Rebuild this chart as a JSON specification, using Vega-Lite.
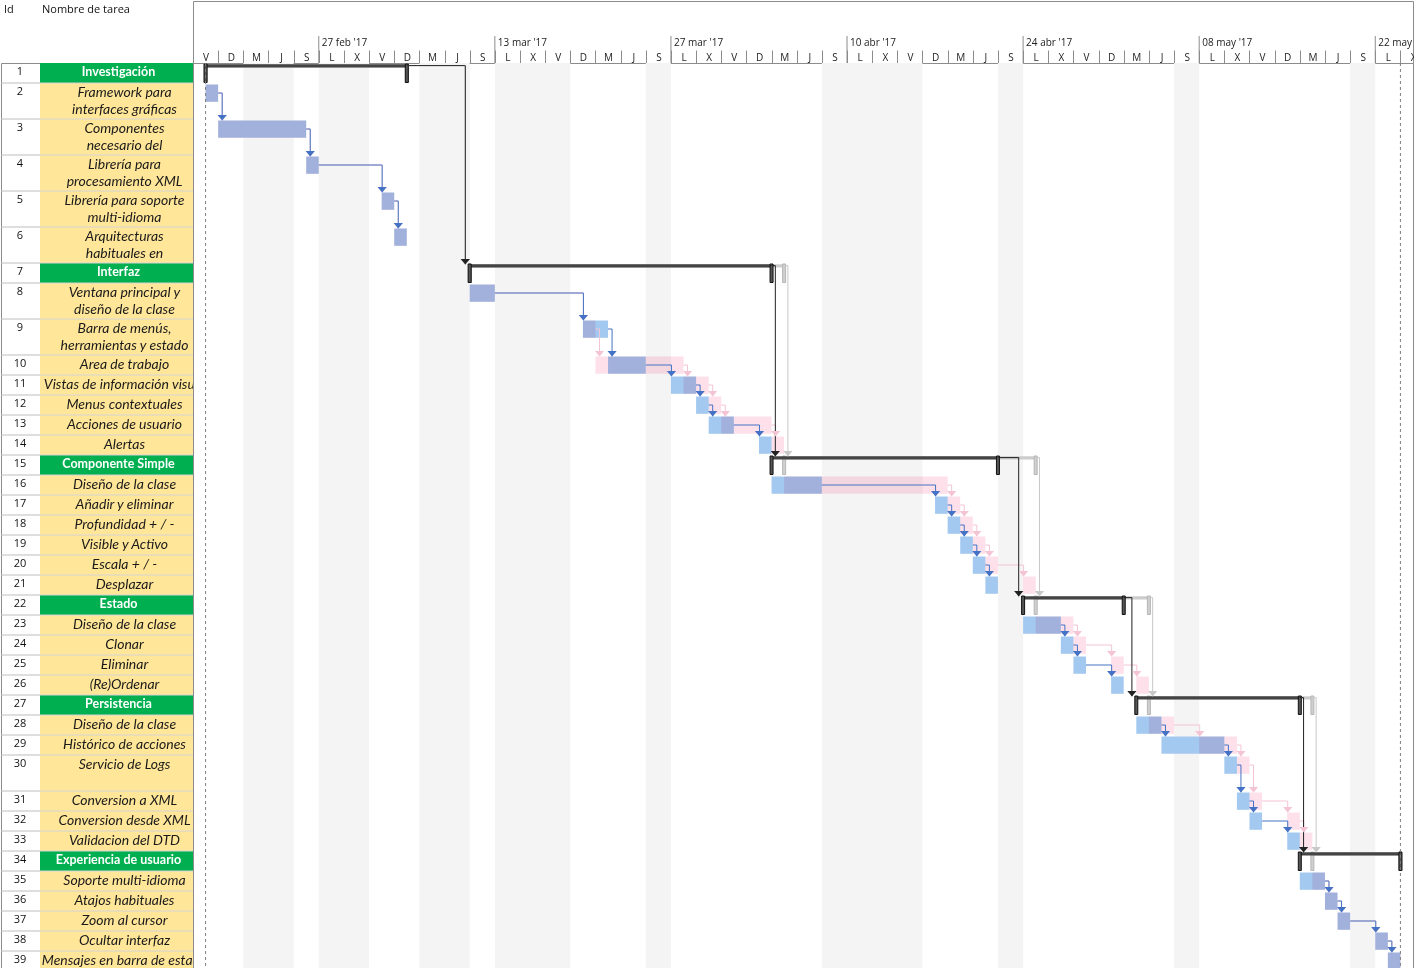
{
  "$schema": "https://vega.github.io/schema/vega-lite/v6.json",
  "padding": 0,
  "columns": 3,
  "spacing": 0,
  "align": "each",
  "bounds": "flush",
  "resolve": {"scale": {"color": "independent"}},
  "config": {
    "view": {"stroke": "#8c8c8c", "strokeWidth": 1},
    "font": "Open Sans"
  },
  "datasets": {
    "semanas": [
      {"inicio": "2017-02-27", "etiqueta": "27 feb '17"},
      {"inicio": "2017-03-13", "etiqueta": "13 mar '17"},
      {"inicio": "2017-03-27", "etiqueta": "27 mar '17"},
      {"inicio": "2017-04-10", "etiqueta": "10 abr '17"},
      {"inicio": "2017-04-24", "etiqueta": "24 abr '17"},
      {"inicio": "2017-05-08", "etiqueta": "08 may '17"},
      {"inicio": "2017-05-22", "etiqueta": "22 may '17"}
    ],
    "nolaborables": [
      {"a": "2017-02-21", "b": "2017-02-25"},
      {"a": "2017-02-27", "b": "2017-03-03"},
      {"a": "2017-03-07", "b": "2017-03-11"},
      {"a": "2017-03-13", "b": "2017-03-19"},
      {"a": "2017-03-25", "b": "2017-03-27"},
      {"a": "2017-04-08", "b": "2017-04-16"},
      {"a": "2017-04-22", "b": "2017-04-24"},
      {"a": "2017-05-06", "b": "2017-05-08"},
      {"a": "2017-05-20", "b": "2017-05-22"}
    ],
    "hitos": [
      {"fecha": "2017-02-18", "hito": "Inicio del proyecto"},
      {"fecha": "2017-05-24", "hito": "Fin del proyecto"}
    ],
    "tasks": [
      {"id": 1, "name": ["Investigación"], "kind": "resumen", "s": "2017-02-18", "e": "2017-03-06", "ps": "2017-02-18", "pe": "2017-03-06", "pred": null},
      {"id": 2, "name": ["Framework para", "interfaces gráficas"], "kind": "tarea", "s": "2017-02-18", "e": "2017-02-19", "ps": "2017-02-18", "pe": "2017-02-19", "pred": null},
      {"id": 3, "name": ["Componentes", "necesario del"], "kind": "tarea", "s": "2017-02-19", "e": "2017-02-26", "ps": "2017-02-19", "pe": "2017-02-26", "pred": 2},
      {"id": 4, "name": ["Librería para", "procesamiento XML"], "kind": "tarea", "s": "2017-02-26", "e": "2017-02-27", "ps": "2017-02-26", "pe": "2017-02-27", "pred": 3},
      {"id": 5, "name": ["Librería para soporte", "multi-idioma"], "kind": "tarea", "s": "2017-03-04", "e": "2017-03-05", "ps": "2017-03-04", "pe": "2017-03-05", "pred": 4},
      {"id": 6, "name": ["Arquitecturas", "habituales en"], "kind": "tarea", "s": "2017-03-05", "e": "2017-03-06", "ps": "2017-03-05", "pe": "2017-03-06", "pred": 5},
      {"id": 7, "name": ["Interfaz"], "kind": "resumen", "s": "2017-03-11", "e": "2017-04-04", "ps": "2017-03-11", "pe": "2017-04-05", "pred": 1},
      {"id": 8, "name": ["Ventana principal y", "diseño de la clase"], "kind": "tarea", "s": "2017-03-11", "e": "2017-03-13", "ps": "2017-03-11", "pe": "2017-03-13", "pred": null},
      {"id": 9, "name": ["Barra de menús,", "herramientas y estado"], "kind": "tarea", "s": "2017-03-20", "e": "2017-03-22", "ps": "2017-03-20", "pe": "2017-03-21", "pred": 8},
      {"id": 10, "name": ["Area de trabajo"], "kind": "tarea", "s": "2017-03-22", "e": "2017-03-25", "ps": "2017-03-21", "pe": "2017-03-28", "pred": 9},
      {"id": 11, "name": ["Vistas de información visual"], "kind": "tarea", "s": "2017-03-27", "e": "2017-03-29", "ps": "2017-03-28", "pe": "2017-03-30", "pred": 10},
      {"id": 12, "name": ["Menus contextuales"], "kind": "tarea", "s": "2017-03-29", "e": "2017-03-30", "ps": "2017-03-30", "pe": "2017-03-31", "pred": 11},
      {"id": 13, "name": ["Acciones de usuario"], "kind": "tarea", "s": "2017-03-30", "e": "2017-04-01", "ps": "2017-03-31", "pe": "2017-04-04", "pred": 12},
      {"id": 14, "name": ["Alertas"], "kind": "tarea", "s": "2017-04-03", "e": "2017-04-04", "ps": "2017-04-04", "pe": "2017-04-05", "pred": 13},
      {"id": 15, "name": ["Componente Simple"], "kind": "resumen", "s": "2017-04-04", "e": "2017-04-22", "ps": "2017-04-05", "pe": "2017-04-25", "pred": 7},
      {"id": 16, "name": ["Diseño de la clase"], "kind": "tarea", "s": "2017-04-04", "e": "2017-04-08", "ps": "2017-04-05", "pe": "2017-04-18", "pred": null},
      {"id": 17, "name": ["Añadir y eliminar"], "kind": "tarea", "s": "2017-04-17", "e": "2017-04-18", "ps": "2017-04-18", "pe": "2017-04-19", "pred": 16},
      {"id": 18, "name": ["Profundidad + / -"], "kind": "tarea", "s": "2017-04-18", "e": "2017-04-19", "ps": "2017-04-19", "pe": "2017-04-20", "pred": 17},
      {"id": 19, "name": ["Visible y Activo"], "kind": "tarea", "s": "2017-04-19", "e": "2017-04-20", "ps": "2017-04-20", "pe": "2017-04-21", "pred": 18},
      {"id": 20, "name": ["Escala + / -"], "kind": "tarea", "s": "2017-04-20", "e": "2017-04-21", "ps": "2017-04-21", "pe": "2017-04-22", "pred": 19},
      {"id": 21, "name": ["Desplazar"], "kind": "tarea", "s": "2017-04-21", "e": "2017-04-22", "ps": "2017-04-24", "pe": "2017-04-25", "pred": 20},
      {"id": 22, "name": ["Estado"], "kind": "resumen", "s": "2017-04-24", "e": "2017-05-02", "ps": "2017-04-25", "pe": "2017-05-04", "pred": 15},
      {"id": 23, "name": ["Diseño de la clase"], "kind": "tarea", "s": "2017-04-24", "e": "2017-04-27", "ps": "2017-04-25", "pe": "2017-04-28", "pred": null},
      {"id": 24, "name": ["Clonar"], "kind": "tarea", "s": "2017-04-27", "e": "2017-04-28", "ps": "2017-04-28", "pe": "2017-04-29", "pred": 23},
      {"id": 25, "name": ["Eliminar"], "kind": "tarea", "s": "2017-04-28", "e": "2017-04-29", "ps": "2017-05-01", "pe": "2017-05-02", "pred": 24},
      {"id": 26, "name": ["(Re)Ordenar"], "kind": "tarea", "s": "2017-05-01", "e": "2017-05-02", "ps": "2017-05-03", "pe": "2017-05-04", "pred": 25},
      {"id": 27, "name": ["Persistencia"], "kind": "resumen", "s": "2017-05-03", "e": "2017-05-16", "ps": "2017-05-04", "pe": "2017-05-17", "pred": 22},
      {"id": 28, "name": ["Diseño de la clase"], "kind": "tarea", "s": "2017-05-03", "e": "2017-05-05", "ps": "2017-05-04", "pe": "2017-05-06", "pred": null},
      {"id": 29, "name": ["Histórico de acciones"], "kind": "tarea", "s": "2017-05-05", "e": "2017-05-10", "ps": "2017-05-08", "pe": "2017-05-11", "pred": 28},
      {"id": 30, "name": ["Servicio de Logs", ""], "kind": "tarea", "s": "2017-05-10", "e": "2017-05-11", "ps": "2017-05-11", "pe": "2017-05-12", "pred": 29},
      {"id": 31, "name": ["Conversion a XML"], "kind": "tarea", "s": "2017-05-11", "e": "2017-05-12", "ps": "2017-05-12", "pe": "2017-05-13", "pred": 30},
      {"id": 32, "name": ["Conversion desde XML"], "kind": "tarea", "s": "2017-05-12", "e": "2017-05-13", "ps": "2017-05-15", "pe": "2017-05-16", "pred": 31},
      {"id": 33, "name": ["Validacion del DTD"], "kind": "tarea", "s": "2017-05-15", "e": "2017-05-16", "ps": "2017-05-16", "pe": "2017-05-17", "pred": 32},
      {"id": 34, "name": ["Experiencia de usuario"], "kind": "resumen", "s": "2017-05-16", "e": "2017-05-24", "ps": "2017-05-17", "pe": "2017-05-24", "pred": 27},
      {"id": 35, "name": ["Soporte multi-idioma"], "kind": "tarea", "s": "2017-05-16", "e": "2017-05-18", "ps": "2017-05-17", "pe": "2017-05-18", "pred": null},
      {"id": 36, "name": ["Atajos habituales"], "kind": "tarea", "s": "2017-05-18", "e": "2017-05-19", "ps": "2017-05-18", "pe": "2017-05-19", "pred": 35},
      {"id": 37, "name": ["Zoom al cursor"], "kind": "tarea", "s": "2017-05-19", "e": "2017-05-20", "ps": "2017-05-19", "pe": "2017-05-20", "pred": 36},
      {"id": 38, "name": ["Ocultar interfaz"], "kind": "tarea", "s": "2017-05-22", "e": "2017-05-23", "ps": "2017-05-22", "pe": "2017-05-23", "pred": 37},
      {"id": 39, "name": ["Mensajes en barra de estado"], "kind": "tarea", "s": "2017-05-23", "e": "2017-05-24", "ps": "2017-05-23", "pe": "2017-05-24", "pred": 38}
    ]
  },
  "concat": [
    {
      "width": 39, "height": 62,
      "data": {"values": [{"t": "Id"}]},
      "mark": {"type": "text", "align": "left", "baseline": "top", "dx": -16.5, "dy": -28, "fontSize": 11, "font": "Open Sans", "color": "#111111"},
      "encoding": {"text": {"field": "t", "type": "nominal"}}
    },
    {
      "width": 153, "height": 62,
      "data": {"values": [{"t": "Nombre de tarea"}]},
      "mark": {"type": "text", "align": "left", "baseline": "top", "dx": -74.5, "dy": -28, "fontSize": 11, "font": "Open Sans", "color": "#111111"},
      "encoding": {"text": {"field": "t", "type": "nominal"}}
    },
    {
      "width": 1220, "height": 62,
      "data": {"name": "semanas"},
      "layer": [
        {
          "mark": {"type": "tick", "orient": "vertical", "color": "#8c8c8c", "thickness": 1, "size": 27, "yOffset": 17.5, "opacity": 1},
          "encoding": {
            "x": {
              "field": "inicio", "type": "temporal",
              "scale": {"type": "utc", "domain": [1487289600000, 1495670400000], "nice": false},
              "axis": {
                "orient": "bottom", "offset": -13, "domain": false, "grid": false, "title": null,
                "tickCount": 200,
                "values": [1487289600000, 1487462400000, 1487635200000, 1487808000000, 1487980800000, 1488153600000, 1488326400000, 1488499200000, 1488672000000, 1488844800000, 1489017600000, 1489190400000, 1489363200000, 1489536000000, 1489708800000, 1489881600000, 1490054400000, 1490227200000, 1490400000000, 1490572800000, 1490745600000, 1490918400000, 1491091200000, 1491264000000, 1491436800000, 1491609600000, 1491782400000, 1491955200000, 1492128000000, 1492300800000, 1492473600000, 1492646400000, 1492819200000, 1492992000000, 1493164800000, 1493337600000, 1493510400000, 1493683200000, 1493856000000, 1494028800000, 1494201600000, 1494374400000, 1494547200000, 1494720000000, 1494892800000, 1495065600000, 1495238400000, 1495411200000, 1495584000000],
                "tickSize": 13, "tickColor": "#8c8c8c", "tickWidth": 1,
                "labelExpr": "['D','L','M','X','J','V','S'][utcday(datum.value)]",
                "labelAlign": "center", "labelBaseline": "top", "labelOffset": 12.6, "labelPadding": -11,
                "labelFontSize": 10, "labelFont": "Open Sans", "labelColor": "#222222",
                "labelOverlap": false, "labelFlush": false, "labelBound": false
              }
            }
          }
        },
        {
          "mark": {"type": "text", "align": "left", "baseline": "top", "dx": 3, "dy": 6, "fontSize": 10, "font": "Open Sans", "color": "#222222", "clip": true},
          "encoding": {
            "x": {"field": "inicio", "type": "temporal"},
            "text": {"field": "etiqueta", "type": "nominal"}
          }
        }
      ]
    },
    {
      "width": 39, "height": 906,
      "data": {"name": "tasks"},
      "transform": [
        {"calculate": "length(datum.name) > 1 ? 1.8 : 1", "as": "h"},
        {"window": [{"op": "sum", "field": "h", "as": "y1"}], "sort": [{"field": "id", "order": "ascending"}], "frame": [null, 0]},
        {"calculate": "datum.y1 - datum.h", "as": "y0"}
      ],
      "layer": [
        {
          "transform": [{"filter": "datum.y1 < 45.3"}],
          "mark": {"type": "rule", "color": "#bdbdbd", "strokeWidth": 1},
          "encoding": {"y": {"field": "y1", "type": "quantitative", "scale": {"domain": [0, 45.3], "reverse": true, "nice": false, "zero": false}, "axis": null}}
        },
        {
          "mark": {"type": "text", "baseline": "top", "yOffset": 3, "dx": -0.5, "fontSize": 11, "font": "Open Sans", "color": "#111111"},
          "encoding": {
            "y": {"field": "y0", "type": "quantitative", "axis": null},
            "text": {"field": "id", "type": "nominal"}
          }
        }
      ]
    },
    {
      "width": 153, "height": 906,
      "data": {"name": "tasks"},
      "transform": [
        {"calculate": "length(datum.name) > 1 ? 1.8 : 1", "as": "h"},
        {"window": [{"op": "sum", "field": "h", "as": "y1"}], "sort": [{"field": "id", "order": "ascending"}], "frame": [null, 0]},
        {"calculate": "datum.y1 - datum.h", "as": "y0"}
      ],
      "layer": [
        {
          "mark": {"type": "rect"},
          "encoding": {
            "y": {"field": "y0", "type": "quantitative", "scale": {"domain": [0, 45.3], "reverse": true, "nice": false, "zero": false}, "axis": null},
            "y2": {"field": "y1"},
            "color": {"field": "kind", "type": "nominal", "scale": {"domain": ["resumen", "tarea"], "range": ["#00b050", "#ffe699"]}, "legend": null}
          }
        },
        {
          "transform": [{"filter": "datum.y1 < 45.3"}],
          "mark": {"type": "rule", "color": "#d4d4d4", "strokeWidth": 1},
          "encoding": {"y": {"field": "y1", "type": "quantitative"}}
        },
        {
          "transform": [{"filter": "datum.kind == 'resumen'"}],
          "mark": {"type": "text", "baseline": "top", "yOffset": 3, "dx": 2, "fontSize": 12.5, "font": "Lato", "fontWeight": "bold", "color": "#ffffff", "clip": true},
          "encoding": {
            "y": {"field": "y0", "type": "quantitative"},
            "text": {"field": "name", "type": "nominal"}
          }
        },
        {
          "transform": [{"filter": "datum.kind == 'tarea'"}],
          "mark": {"type": "text", "baseline": "top", "yOffset": 2.5, "dx": 8, "fontSize": 14, "font": "Lato", "fontStyle": "italic", "color": "#1a1a1a", "lineHeight": 17, "clip": true},
          "encoding": {
            "y": {"field": "y0", "type": "quantitative"},
            "text": {"field": "name", "type": "nominal"}
          }
        }
      ]
    },
    {
      "width": 1220, "height": 906,
      "layer": [
        {
          "data": {"name": "nolaborables"},
          "mark": {"type": "rect", "color": "#f4f4f4"},
          "encoding": {
            "x": {"field": "a", "type": "temporal", "scale": {"type": "utc", "domain": [1487289600000, 1495670400000], "nice": false}, "axis": null},
            "x2": {"field": "b"}
          }
        },
        {
          "data": {"name": "tasks"},
          "transform": [
            {"calculate": "length(datum.name) > 1 ? 1.8 : 1", "as": "h"},
            {"window": [{"op": "sum", "field": "h", "as": "y1"}], "sort": [{"field": "id", "order": "ascending"}], "frame": [null, 0]},
            {"calculate": "datum.y1 - datum.h", "as": "y0"},
            {"filter": "datum.kind == 'resumen'"}
          ],
          "mark": {"type": "rect", "color": "#cccccc", "yOffset": 1.2, "y2Offset": 4.6},
          "encoding": {
            "x": {"field": "ps", "type": "temporal"},
            "x2": {"field": "pe"},
            "y": {"field": "y0", "type": "quantitative", "scale": {"domain": [0, 45.3], "reverse": true, "nice": false, "zero": false}, "axis": null},
            "y2": {"field": "y0"}
          }
        },
        {
          "data": {"name": "tasks"},
          "transform": [
            {"calculate": "length(datum.name) > 1 ? 1.8 : 1", "as": "h"},
            {"window": [{"op": "sum", "field": "h", "as": "y1"}], "sort": [{"field": "id", "order": "ascending"}], "frame": [null, 0]},
            {"calculate": "datum.y1 - datum.h", "as": "y0"},
            {"filter": "datum.kind == 'resumen'"},
            {"fold": ["ps", "pe"], "as": ["k", "v"]},
            {"calculate": "toDate(datum.v)", "as": "vd"}
          ],
          "mark": {"type": "rect", "color": "#d0d0d0", "stroke": "#b5b5b5", "strokeWidth": 1, "xOffset": -1.5, "x2Offset": 1.5, "yOffset": 1, "y2Offset": 19.5},
          "encoding": {
            "x": {"field": "vd", "type": "temporal"},
            "x2": {"field": "vd"},
            "y": {"field": "y0", "type": "quantitative"},
            "y2": {"field": "y0"}
          }
        },
        {
          "data": {"name": "tasks"},
          "transform": [
            {"calculate": "length(datum.name) > 1 ? 1.8 : 1", "as": "h"},
            {"window": [{"op": "sum", "field": "h", "as": "y1"}], "sort": [{"field": "id", "order": "ascending"}], "frame": [null, 0]},
            {"calculate": "datum.y1 - datum.h", "as": "y0"},
            {"filter": "datum.kind == 'resumen'"}
          ],
          "mark": {"type": "rect", "color": "#444444", "yOffset": 1.2, "y2Offset": 4.6},
          "encoding": {
            "x": {"field": "s", "type": "temporal"},
            "x2": {"field": "e"},
            "y": {"field": "y0", "type": "quantitative"},
            "y2": {"field": "y0"}
          }
        },
        {
          "data": {"name": "tasks"},
          "transform": [
            {"calculate": "length(datum.name) > 1 ? 1.8 : 1", "as": "h"},
            {"window": [{"op": "sum", "field": "h", "as": "y1"}], "sort": [{"field": "id", "order": "ascending"}], "frame": [null, 0]},
            {"calculate": "datum.y1 - datum.h", "as": "y0"},
            {"filter": "datum.kind == 'resumen'"},
            {"fold": ["s", "e"], "as": ["k", "v"]},
            {"calculate": "toDate(datum.v)", "as": "vd"}
          ],
          "mark": {"type": "rect", "color": "#555555", "stroke": "#111111", "strokeWidth": 1, "xOffset": -1.5, "x2Offset": 1.5, "yOffset": 1, "y2Offset": 19.5},
          "encoding": {
            "x": {"field": "vd", "type": "temporal"},
            "x2": {"field": "vd"},
            "y": {"field": "y0", "type": "quantitative"},
            "y2": {"field": "y0"}
          }
        },
        {
          "data": {"name": "tasks"},
          "transform": [
            {"calculate": "length(datum.name) > 1 ? 1.8 : 1", "as": "h"},
            {"window": [{"op": "sum", "field": "h", "as": "y1"}], "sort": [{"field": "id", "order": "ascending"}], "frame": [null, 0]},
            {"calculate": "datum.y1 - datum.h", "as": "y0"},
            {"filter": "datum.kind == 'tarea'"}
          ],
          "mark": {"type": "rect", "color": "#a3c9f0", "yOffset": 1.5, "y2Offset": 18.8},
          "encoding": {
            "x": {"field": "s", "type": "temporal"},
            "x2": {"field": "e"},
            "y": {"field": "y0", "type": "quantitative"},
            "y2": {"field": "y0"}
          }
        },
        {
          "data": {"name": "tasks"},
          "transform": [
            {"calculate": "length(datum.name) > 1 ? 1.8 : 1", "as": "h"},
            {"window": [{"op": "sum", "field": "h", "as": "y1"}], "sort": [{"field": "id", "order": "ascending"}], "frame": [null, 0]},
            {"calculate": "datum.y1 - datum.h", "as": "y0"},
            {"filter": "datum.kind == 'tarea'"}
          ],
          "mark": {"type": "rect", "color": "#fde0ea", "blend": "multiply", "yOffset": 1.5, "y2Offset": 18.8},
          "encoding": {
            "x": {"field": "ps", "type": "temporal"},
            "x2": {"field": "pe"},
            "y": {"field": "y0", "type": "quantitative"},
            "y2": {"field": "y0"}
          }
        },
        {
          "data": {"name": "tasks"},
          "transform": [
            {"calculate": "length(datum.name) > 1 ? 1.8 : 1", "as": "h"},
            {"window": [{"op": "sum", "field": "h", "as": "y1"}], "sort": [{"field": "id", "order": "ascending"}], "frame": [null, 0]},
            {"calculate": "datum.y1 - datum.h", "as": "y0"},
            {"window": [{"op": "lag", "field": "e", "as": "ae"}, {"op": "lag", "field": "pe", "as": "ape"}, {"op": "lag", "field": "y0", "as": "ay0"}], "groupby": ["kind"], "sort": [{"field": "id", "order": "ascending"}]},
            {"filter": "datum.pred != null"},
            {"fold": ["ps", "s"], "as": ["sk", "sv"]},
            {"calculate": "toNumber(toDate(datum.sk == 's' ? datum.ae : datum.ape))", "as": "x0"},
            {"calculate": "toNumber(toDate(datum.sv))", "as": "xs"},
            {"calculate": "datum.kind == 'resumen' ? (datum.xs > datum.x0 ? datum.xs - 0.35 * 864e5 : datum.x0 + 0.3 * 864e5) : (datum.xs > datum.x0 ? datum.xs + 0.04 * 864e5 : datum.x0 + 0.32 * 864e5)", "as": "xa"},
            {"calculate": "datum.ay0 + (datum.kind == 'resumen' ? 0.13 : 0.5)", "as": "ly"},
            {"calculate": "datum.kind == 'resumen' ? (datum.sk == 's' ? 'resumen' : 'resumen previsto') : (datum.sk == 's' ? 'tarea' : 'tarea prevista')", "as": "tipo"}
          ],
          "mark": {"type": "rule", "strokeWidth": 1},
          "encoding": {
            "x": {"field": "x0", "type": "temporal"},
            "x2": {"field": "xa"},
            "y": {"field": "ly", "type": "quantitative"},
            "color": {"field": "tipo", "type": "nominal", "scale": {"domain": ["tarea prevista", "resumen previsto", "tarea", "resumen"], "range": ["#f4c4d4", "#c8c8c8", "#4472c4", "#222222"]}, "legend": null}
          }
        },
        {
          "data": {"name": "tasks"},
          "transform": [
            {"calculate": "length(datum.name) > 1 ? 1.8 : 1", "as": "h"},
            {"window": [{"op": "sum", "field": "h", "as": "y1"}], "sort": [{"field": "id", "order": "ascending"}], "frame": [null, 0]},
            {"calculate": "datum.y1 - datum.h", "as": "y0"},
            {"window": [{"op": "lag", "field": "e", "as": "ae"}, {"op": "lag", "field": "pe", "as": "ape"}, {"op": "lag", "field": "y0", "as": "ay0"}], "groupby": ["kind"], "sort": [{"field": "id", "order": "ascending"}]},
            {"filter": "datum.pred != null"},
            {"fold": ["ps", "s"], "as": ["sk", "sv"]},
            {"calculate": "toNumber(toDate(datum.sk == 's' ? datum.ae : datum.ape))", "as": "x0"},
            {"calculate": "toNumber(toDate(datum.sv))", "as": "xs"},
            {"calculate": "datum.kind == 'resumen' ? (datum.xs > datum.x0 ? datum.xs - 0.35 * 864e5 : datum.x0 + 0.3 * 864e5) : (datum.xs > datum.x0 ? datum.xs + 0.04 * 864e5 : datum.x0 + 0.32 * 864e5)", "as": "xa"},
            {"calculate": "datum.ay0 + (datum.kind == 'resumen' ? 0.13 : 0.5)", "as": "ly"},
            {"calculate": "datum.y0 + 0.06", "as": "ty"},
            {"calculate": "datum.kind == 'resumen' ? (datum.sk == 's' ? 'resumen' : 'resumen previsto') : (datum.sk == 's' ? 'tarea' : 'tarea prevista')", "as": "tipo"}
          ],
          "mark": {"type": "rule", "strokeWidth": 1},
          "encoding": {
            "x": {"field": "xa", "type": "temporal"},
            "y": {"field": "ly", "type": "quantitative"},
            "y2": {"field": "ty"},
            "color": {"field": "tipo", "type": "nominal", "legend": null}
          }
        },
        {
          "data": {"name": "tasks"},
          "transform": [
            {"calculate": "length(datum.name) > 1 ? 1.8 : 1", "as": "h"},
            {"window": [{"op": "sum", "field": "h", "as": "y1"}], "sort": [{"field": "id", "order": "ascending"}], "frame": [null, 0]},
            {"calculate": "datum.y1 - datum.h", "as": "y0"},
            {"window": [{"op": "lag", "field": "e", "as": "ae"}, {"op": "lag", "field": "pe", "as": "ape"}, {"op": "lag", "field": "y0", "as": "ay0"}], "groupby": ["kind"], "sort": [{"field": "id", "order": "ascending"}]},
            {"filter": "datum.pred != null"},
            {"fold": ["ps", "s"], "as": ["sk", "sv"]},
            {"calculate": "toNumber(toDate(datum.sk == 's' ? datum.ae : datum.ape))", "as": "x0"},
            {"calculate": "toNumber(toDate(datum.sv))", "as": "xs"},
            {"calculate": "datum.kind == 'resumen' ? (datum.xs > datum.x0 ? datum.xs - 0.35 * 864e5 : datum.x0 + 0.3 * 864e5) : (datum.xs > datum.x0 ? datum.xs + 0.04 * 864e5 : datum.x0 + 0.32 * 864e5)", "as": "xa"},
            {"calculate": "datum.y0 + 0.06", "as": "ty"},
            {"calculate": "datum.kind == 'resumen' ? (datum.sk == 's' ? 'resumen' : 'resumen previsto') : (datum.sk == 's' ? 'tarea' : 'tarea prevista')", "as": "tipo"}
          ],
          "mark": {"type": "point", "shape": "M-1,-0.6L1,-0.6L0,0.6Z", "size": 85, "filled": true, "opacity": 1, "strokeWidth": 0, "yOffset": -2.5},
          "encoding": {
            "x": {"field": "xa", "type": "temporal"},
            "y": {"field": "ty", "type": "quantitative"},
            "color": {"field": "tipo", "type": "nominal", "legend": null}
          }
        },
        {
          "data": {"name": "hitos"},
          "mark": {"type": "rule", "color": "#7f7f7f", "strokeDash": [3, 3], "strokeWidth": 1},
          "encoding": {"x": {"field": "fecha", "type": "temporal"}}
        }
      ]
    }
  ]
}
